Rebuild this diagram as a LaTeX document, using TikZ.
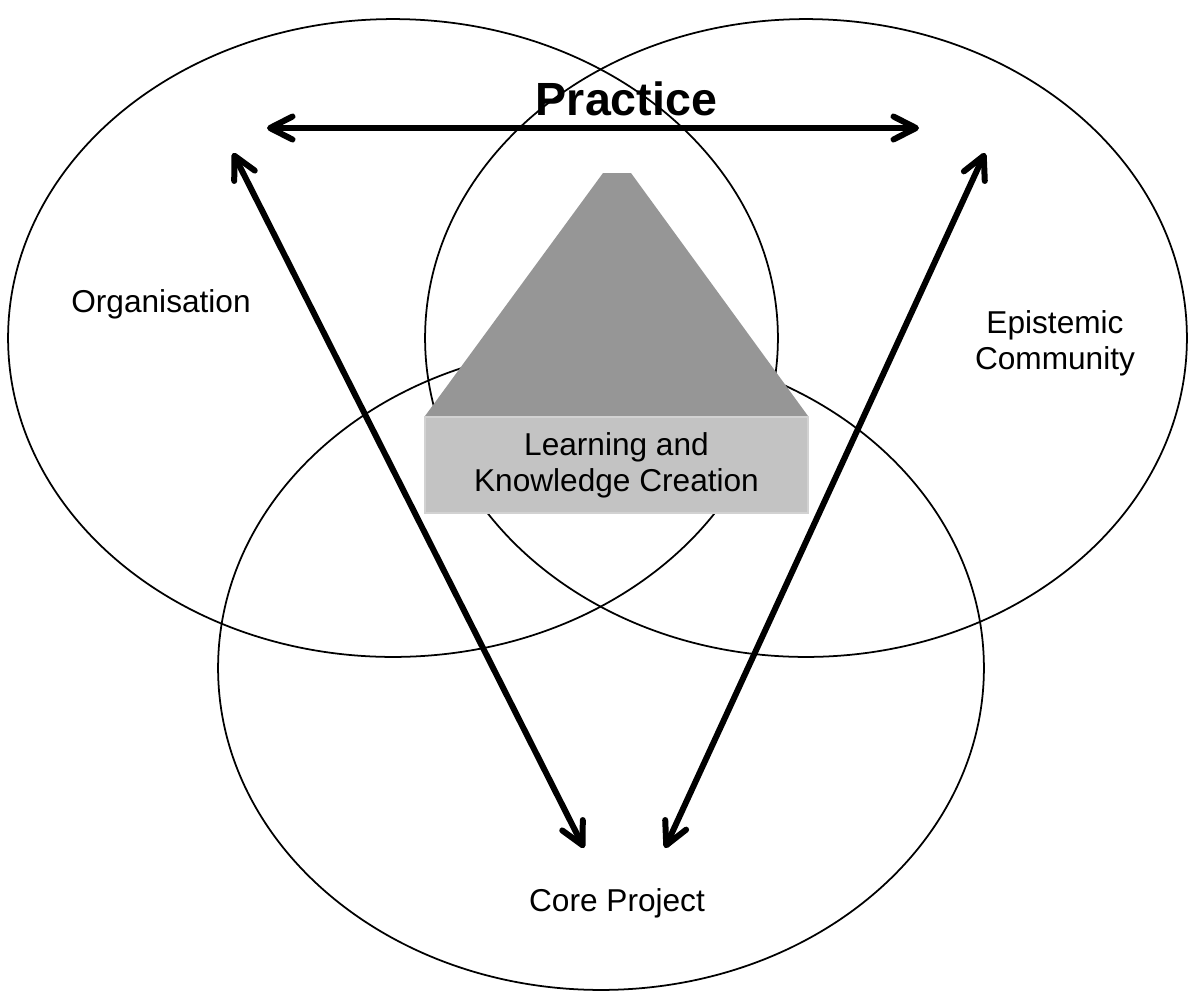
\documentclass[tikz,border=0pt]{standalone}
\usepackage{fontspec}
\setmainfont{Liberation Sans}
\usepackage{xcolor}
\definecolor{t1}{HTML}{969696}
\definecolor{k1}{HTML}{C3C3C3}
\definecolor{k2}{HTML}{D2D2D2}
\usetikzlibrary{arrows.meta}

\tikzset{
  ring/.style={line width=1pt},
  link/.style={line width=0.12cm,line cap=round,
    {Straight Barb[length=0.45cm,width=0.46cm,round]}-{Straight Barb[length=0.45cm,width=0.46cm,round]}},
  settext/.style={font=\fontsize{18}{20.5}\selectfont,align=center}
}

\begin{document}
\begin{tikzpicture}[x=0.02cm,y=-0.02cm]
  \useasboundingbox (0,0) rectangle (1188,992);

  % the three sets
  \draw[ring] (393,338) ellipse [x radius=7.7cm,y radius=6.38cm];
  \draw[ring] (806,338) ellipse [x radius=7.62cm,y radius=6.38cm];
  \draw[ring] (601,668) ellipse [x radius=7.66cm,y radius=6.44cm];

  % pyramid with its base
  \fill[t1] (603,173) -- (631,173) -- (808,416) -- (425,416) -- cycle;
  \node[settext,fill=k1,draw=k2,line width=1pt,inner sep=0pt,
        minimum width=7.66cm,minimum height=1.92cm] (lkc) at (616.5,465)
        {Learning and\\Knowledge Creation};

  \node[anchor=base,font=\fontsize{26.5}{30}\selectfont\bfseries] (prac) at (626.5,115) {Practice};
  \node[settext,anchor=base] (org) at (161,312) {Organisation};
  \node[settext] (epi) at (1055,343) {Epistemic\\Community};
  \node[settext,anchor=base] (core) at (617,911) {Core Project};

  \coordinate (pl) at (267,128);
  \coordinate (pr) at (919,128);
  \coordinate (ol) at (233,153);
  \coordinate (ob) at (584,848);
  \coordinate (er) at (985,153);
  \coordinate (eb) at (665,848);

  \draw[link] (pl) -- (pr);
  \draw[link] (ol) -- (ob);
  \draw[link] (er) -- (eb);
\end{tikzpicture}
\end{document}
